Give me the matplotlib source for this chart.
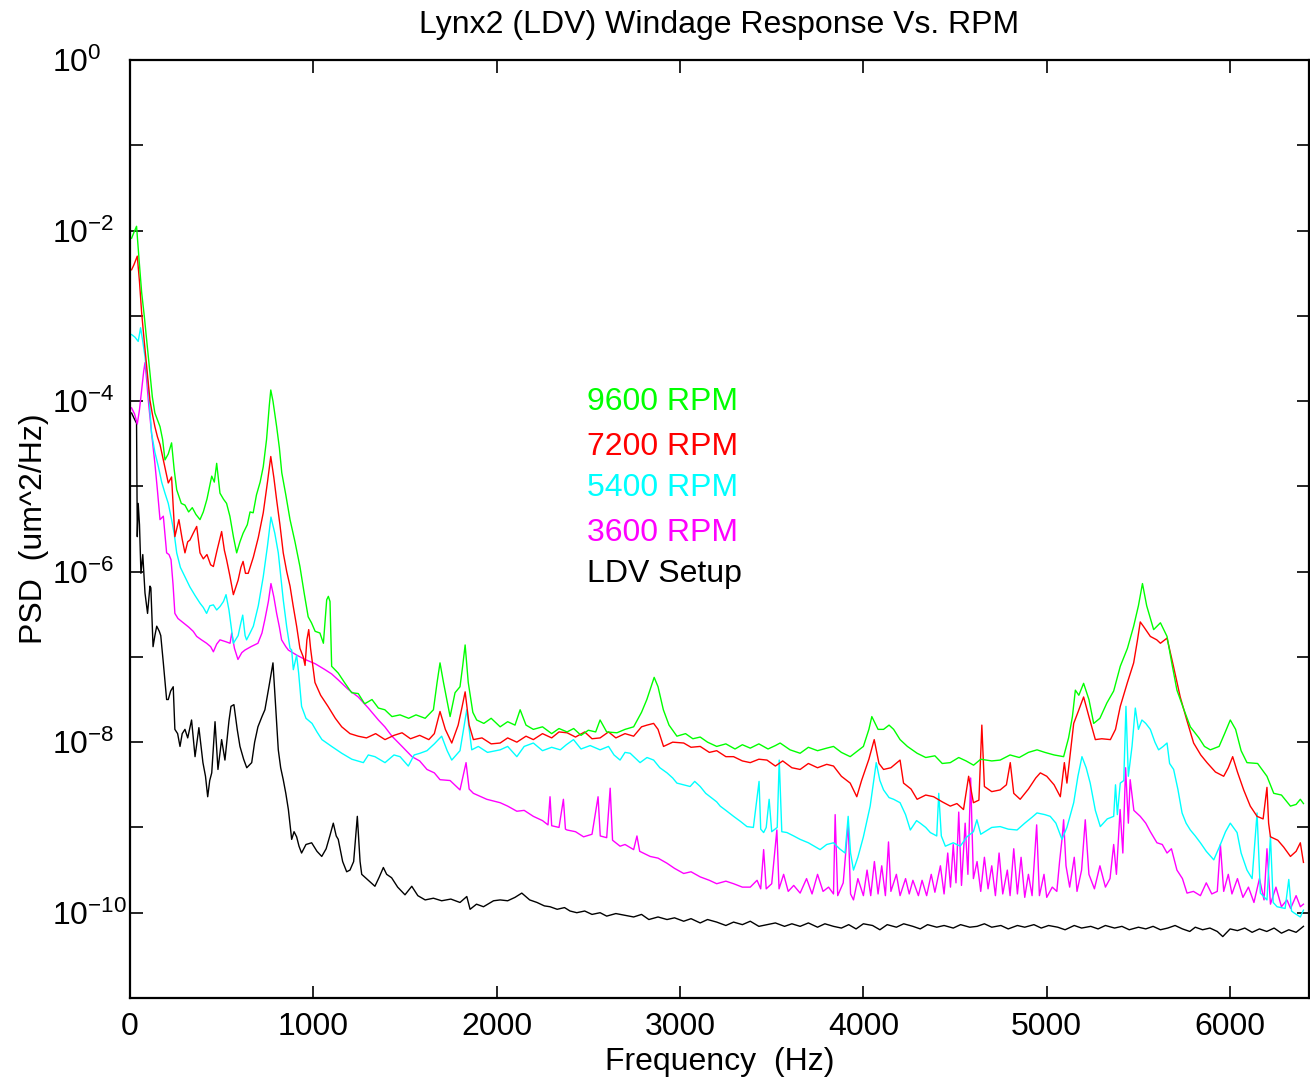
import numpy as np
import matplotlib
matplotlib.use("Agg")
import matplotlib.pyplot as plt
from matplotlib.ticker import FixedLocator, NullLocator

plt.rcParams['font.family'] = ['Liberation Sans', 'DejaVu Sans']
plt.rcParams['mathtext.fontset'] = 'custom'
plt.rcParams['mathtext.rm'] = 'Liberation Sans'
plt.rcParams['mathtext.it'] = 'Liberation Sans:italic'
plt.rcParams['mathtext.bf'] = 'Liberation Sans:bold'

# PSD curves, values as log10(um^2/Hz)
f_9600 = [9, 22, 36, 50, 64, 78, 91, 109, 122, 136, 150, 164, 178, 191, 209, 227, 241, 255, 280, 300,
          320, 340, 360, 382, 400, 420, 446, 460, 473, 491, 510, 527, 545, 565, 582, 600, 617, 640, 655, 672,
          690, 710, 727, 745, 760, 768, 780, 800, 815, 828, 850, 873, 900, 927, 950, 972, 990, 1010, 1036, 1055,
          1073, 1082, 1091, 1100, 1136, 1170, 1209, 1245, 1280, 1320, 1355, 1390, 1429, 1473, 1520, 1560, 1610, 1655, 1675, 1691,
          1710, 1746, 1773, 1800, 1815, 1828, 1845, 1870, 1891, 1930, 1970, 2019, 2060, 2100, 2128, 2160, 2200, 2250, 2300, 2340,
          2384, 2420, 2460, 2500, 2540, 2564, 2600, 2656, 2700, 2747, 2790, 2819, 2859, 2880, 2909, 2940, 2983, 3030, 3070, 3110,
          3150, 3200, 3250, 3300, 3340, 3383, 3430, 3480, 3520, 3546, 3600, 3655, 3700, 3750, 3800, 3837, 3880, 3928, 3970, 4000,
          4030, 4046, 4080, 4110, 4140, 4165, 4200, 4240, 4293, 4340, 4390, 4430, 4474, 4520, 4560, 4601, 4640, 4700, 4746, 4800,
          4850, 4900, 4947, 4990, 5040, 5092, 5119, 5140, 5156, 5175, 5201, 5230, 5256, 5290, 5328, 5365, 5401, 5440, 5474, 5500,
          5522, 5545, 5583, 5620, 5656, 5680, 5710, 5745, 5783, 5830, 5860, 5892, 5940, 5970, 6001, 6030, 6060, 6092, 6150, 6201,
          6238, 6280, 6329, 6360, 6383, 6400]
p_9600 = [-2.09, -2.02, -1.95, -2.35, -2.73, -3.0, -3.28, -3.67, -3.95, -4.14, -4.22, -4.30, -4.45, -4.69, -4.62, -4.49, -4.8, -5.04, -5.2, -5.22,
          -5.30, -5.25, -5.33, -5.39, -5.30, -5.15, -4.88, -4.95, -4.73, -5.08, -5.15, -5.20, -5.35, -5.60, -5.78, -5.65, -5.55, -5.45, -5.30, -5.31,
          -5.10, -4.95, -4.77, -4.45, -4.05, -3.87, -4.00, -4.30, -4.55, -4.84, -5.10, -5.39, -5.65, -5.94, -6.25, -6.53, -6.60, -6.70, -6.72, -6.84,
          -6.33, -6.29, -6.35, -7.11, -7.19, -7.30, -7.42, -7.43, -7.55, -7.50, -7.60, -7.62, -7.70, -7.68, -7.72, -7.68, -7.72, -7.62, -7.30, -7.07,
          -7.30, -7.70, -7.42, -7.35, -7.10, -6.86, -7.30, -7.65, -7.74, -7.78, -7.72, -7.82, -7.76, -7.80, -7.62, -7.80, -7.85, -7.82, -7.90, -7.84,
          -7.88, -7.84, -7.92, -7.86, -7.88, -7.74, -7.88, -7.89, -7.85, -7.82, -7.65, -7.50, -7.24, -7.35, -7.62, -7.80, -7.93, -7.90, -7.96, -7.94,
          -8.00, -8.05, -8.02, -8.08, -8.03, -8.07, -8.02, -8.08, -8.04, -8.01, -8.09, -8.13, -8.06, -8.10, -8.07, -8.05, -8.12, -8.17, -8.10, -8.05,
          -7.85, -7.70, -7.85, -7.85, -7.80, -7.85, -7.97, -8.05, -8.13, -8.18, -8.16, -8.25, -8.24, -8.18, -8.22, -8.27, -8.20, -8.22, -8.21, -8.15,
          -8.18, -8.12, -8.09, -8.12, -8.15, -8.17, -7.95, -7.70, -7.39, -7.45, -7.31, -7.50, -7.78, -7.72, -7.54, -7.40, -7.11, -6.90, -6.64, -6.40,
          -6.14, -6.40, -6.68, -6.60, -6.76, -7.05, -7.39, -7.60, -7.82, -7.95, -8.05, -8.09, -8.05, -7.90, -7.74, -7.85, -8.10, -8.24, -8.25, -8.40,
          -8.60, -8.62, -8.75, -8.73, -8.67, -8.72]

f_7200 = [9, 22, 40, 52, 64, 78, 91, 109, 122, 136, 150, 164, 185, 209, 227, 245, 267, 285, 300, 315,
          327, 345, 364, 382, 400, 420, 440, 455, 475, 500, 515, 527, 545, 564, 590, 605, 617, 630, 645, 673,
          700, 727, 750, 768, 785, 800, 818, 836, 855, 873, 890, 909, 927, 945, 955, 965, 975, 985, 1009, 1040,
          1080, 1120, 1155, 1200, 1245, 1290, 1340, 1391, 1440, 1484, 1530, 1580, 1630, 1660, 1691, 1720, 1755, 1790, 1810, 1828,
          1850, 1873, 1920, 1970, 2019, 2060, 2110, 2160, 2200, 2250, 2300, 2340, 2384, 2430, 2480, 2520, 2564, 2610, 2650, 2700,
          2747, 2790, 2820, 2856, 2880, 2910, 2960, 3020, 3060, 3110, 3160, 3200, 3250, 3292, 3340, 3383, 3430, 3474, 3520, 3560,
          3610, 3655, 3700, 3750, 3800, 3837, 3880, 3928, 3964, 3990, 4030, 4059, 4085, 4110, 4150, 4200, 4219, 4260, 4293, 4340,
          4383, 4430, 4474, 4510, 4546, 4574, 4600, 4630, 4646, 4660, 4700, 4746, 4780, 4801, 4820, 4855, 4900, 4940, 4965, 5000,
          5040, 5074, 5096, 5110, 5130, 5147, 5170, 5201, 5230, 5265, 5300, 5347, 5375, 5401, 5440, 5474, 5495, 5510, 5530, 5565,
          5600, 5620, 5656, 5690, 5728, 5765, 5801, 5840, 5874, 5920, 5965, 5990, 6014, 6040, 6074, 6110, 6147, 6180, 6201, 6210,
          6220, 6260, 6292, 6329, 6360, 6383, 6400]
p_7200 = [-2.46, -2.40, -2.30, -2.60, -2.97, -3.30, -3.59, -3.99, -4.15, -4.30, -4.42, -4.51, -4.72, -4.96, -4.89, -5.59, -5.39, -5.62, -5.78, -5.65,
          -5.63, -5.55, -5.47, -5.78, -5.85, -5.80, -5.92, -5.94, -5.75, -5.53, -5.75, -5.86, -6.05, -6.27, -6.10, -5.95, -5.88, -6.02, -6.02, -5.83,
          -5.60, -5.31, -4.95, -4.65, -4.90, -5.16, -5.45, -5.78, -6.00, -6.17, -6.40, -6.64, -6.90, -7.00, -7.10, -6.80, -6.68, -6.90, -7.30, -7.45,
          -7.58, -7.72, -7.82, -7.90, -7.93, -7.95, -7.90, -7.97, -7.92, -7.89, -7.96, -7.92, -7.97, -7.90, -7.64, -7.85, -8.01, -7.80, -7.60, -7.41,
          -7.80, -7.97, -7.95, -8.02, -8.01, -7.95, -8.00, -7.93, -7.97, -7.90, -7.95, -7.88, -7.89, -7.94, -7.88, -7.96, -7.95, -7.88, -7.95, -7.90,
          -7.93, -7.82, -7.80, -7.78, -7.85, -8.05, -8.00, -8.01, -8.06, -8.05, -8.12, -8.10, -8.17, -8.17, -8.22, -8.24, -8.20, -8.21, -8.28, -8.22,
          -8.30, -8.32, -8.25, -8.30, -8.26, -8.28, -8.40, -8.48, -8.64, -8.45, -8.20, -7.97, -8.25, -8.32, -8.30, -8.21, -8.48, -8.55, -8.67, -8.62,
          -8.64, -8.70, -8.75, -8.72, -8.79, -8.40, -8.71, -8.68, -7.80, -8.52, -8.58, -8.56, -8.50, -8.24, -8.60, -8.67, -8.55, -8.42, -8.36, -8.40,
          -8.50, -8.64, -8.24, -8.48, -8.10, -7.78, -7.65, -7.47, -7.70, -7.97, -7.96, -7.97, -7.85, -7.58, -7.30, -7.07, -6.80, -6.59, -6.65, -6.76,
          -6.80, -6.84, -6.78, -7.10, -7.47, -7.75, -8.01, -8.15, -8.24, -8.35, -8.40, -8.30, -8.17, -8.35, -8.56, -8.75, -8.87, -8.90, -8.53, -8.95,
          -9.11, -9.15, -9.23, -9.34, -9.28, -9.18, -9.41]

f_5400 = [9, 27, 45, 58, 70, 82, 100, 118, 136, 155, 173, 191, 209, 227, 241, 255, 275, 300, 327, 355,
          382, 400, 418, 436, 455, 473, 491, 510, 524, 540, 564, 590, 605, 615, 628, 636, 655, 673, 700, 727,
          750, 769, 790, 809, 836, 855, 873, 882, 891, 909, 920, 936, 960, 993, 1020, 1047, 1100, 1155, 1210, 1273,
          1300, 1336, 1391, 1440, 1473, 1518, 1550, 1582, 1620, 1660, 1700, 1730, 1755, 1800, 1837, 1864, 1900, 1950, 2019, 2060,
          2110, 2150, 2200, 2250, 2300, 2347, 2380, 2419, 2460, 2510, 2564, 2610, 2640, 2673, 2700, 2728, 2782, 2820, 2856, 2890,
          2929, 2960, 2983, 3020, 3055, 3080, 3110, 3140, 3164, 3200, 3219, 3250, 3292, 3330, 3365, 3400, 3431, 3440, 3456, 3470,
          3486, 3500, 3530, 3541, 3555, 3583, 3620, 3655, 3700, 3764, 3800, 3837, 3870, 3900, 3917, 3930, 3946, 3970, 4000, 4037,
          4070, 4090, 4110, 4140, 4165, 4200, 4230, 4256, 4290, 4310, 4340, 4365, 4400, 4411, 4425, 4447, 4490, 4528, 4565, 4600,
          4619, 4640, 4655, 4700, 4746, 4790, 4838, 4880, 4920, 4947, 4990, 5019, 5050, 5083, 5110, 5147, 5170, 5192, 5215, 5237,
          5265, 5292, 5330, 5365, 5375, 5385, 5401, 5420, 5432, 5445, 5465, 5483, 5500, 5519, 5540, 5565, 5590, 5610, 5635, 5656,
          5670, 5692, 5715, 5738, 5760, 5783, 5810, 5838, 5870, 5911, 5947, 5975, 6001, 6038, 6060, 6092, 6120, 6147, 6165, 6201,
          6220, 6235, 6256, 6300, 6320, 6335, 6347, 6383, 6400]
p_5400 = [-3.22, -3.25, -3.30, -3.14, -3.30, -3.48, -3.83, -4.38, -4.60, -4.77, -4.95, -5.08, -5.20, -5.39, -5.55, -5.78, -5.95, -6.06, -6.18, -6.28,
          -6.37, -6.42, -6.49, -6.40, -6.39, -6.45, -6.41, -6.35, -6.27, -6.45, -6.84, -6.75, -6.60, -6.51, -6.75, -6.80, -6.72, -6.64, -6.40, -6.06,
          -5.70, -5.36, -5.55, -5.78, -6.33, -6.65, -6.90, -6.92, -7.15, -6.98, -7.19, -7.58, -7.72, -7.78, -7.88, -7.97, -8.05, -8.13, -8.20, -8.24,
          -8.15, -8.17, -8.24, -8.15, -8.17, -8.28, -8.15, -8.13, -8.10, -8.02, -7.93, -8.10, -8.21, -8.10, -7.62, -8.09, -8.05, -8.12, -8.09, -8.05,
          -8.17, -8.05, -8.01, -8.10, -8.06, -8.09, -8.03, -7.97, -8.08, -8.04, -8.09, -8.05, -8.15, -8.21, -8.12, -8.13, -8.24, -8.18, -8.21, -8.30,
          -8.36, -8.42, -8.48, -8.50, -8.52, -8.46, -8.52, -8.60, -8.64, -8.70, -8.75, -8.80, -8.87, -8.93, -8.99, -9.00, -8.46, -9.02, -9.06, -9.00,
          -8.67, -9.05, -9.00, -8.21, -9.05, -9.06, -9.10, -9.14, -9.18, -9.26, -9.20, -9.18, -9.25, -9.30, -8.87, -9.30, -9.50, -9.35, -9.11, -8.75,
          -8.24, -8.45, -8.56, -8.65, -8.67, -8.71, -8.85, -9.03, -8.92, -8.95, -9.00, -9.06, -9.10, -8.60, -9.10, -9.22, -9.18, -9.22, -9.11, -9.05,
          -8.91, -9.08, -9.06, -9.00, -8.99, -9.02, -9.03, -8.95, -8.88, -8.83, -8.85, -8.87, -8.95, -9.14, -9.00, -8.71, -8.40, -8.17, -8.30, -8.48,
          -8.80, -8.99, -8.90, -8.87, -8.50, -8.85, -8.48, -8.45, -7.58, -8.40, -8.05, -7.60, -7.85, -7.74, -7.78, -7.85, -8.00, -8.09, -8.05, -8.01,
          -8.25, -8.32, -8.55, -8.83, -8.95, -9.03, -9.10, -9.18, -9.28, -9.38, -9.20, -9.05, -8.95, -9.06, -9.30, -9.50, -9.60, -8.83, -9.77, -9.85,
          -9.10, -9.88, -9.93, -9.95, -9.61, -9.98, -10.0, -10.05, -9.97]

f_3600 = [9, 25, 40, 52, 64, 75, 82, 91, 100, 118, 136, 150, 164, 182, 200, 213, 224, 235, 245, 262,
          291, 320, 345, 364, 390, 418, 440, 455, 473, 491, 520, 546, 555, 570, 589, 610, 627, 660, 698, 720,
          736, 755, 769, 785, 800, 815, 827, 850, 864, 910, 955, 1010, 1064, 1100, 1136, 1190, 1245, 1300, 1355, 1390,
          1429, 1484, 1538, 1580, 1620, 1660, 1691, 1746, 1800, 1833, 1850, 1873, 1946, 2019, 2060, 2110, 2150, 2200, 2250, 2280,
          2291, 2300, 2340, 2364, 2375, 2384, 2430, 2474, 2520, 2553, 2565, 2600, 2619, 2632, 2673, 2700, 2747, 2765, 2780, 2837,
          2880, 2929, 2970, 3020, 3060, 3110, 3160, 3200, 3250, 3292, 3340, 3383, 3420, 3440, 3456, 3470, 3500, 3528, 3540, 3565,
          3590, 3620, 3655, 3690, 3720, 3750, 3780, 3810, 3837, 3846, 3860, 3890, 3917, 3930, 3946, 3970, 4000, 4020, 4040, 4060,
          4080, 4100, 4120, 4137, 4150, 4180, 4200, 4230, 4250, 4270, 4300, 4320, 4345, 4370, 4390, 4420, 4440, 4460, 4475, 4490,
          4505, 4520, 4535, 4555, 4570, 4585, 4600, 4620, 4640, 4660, 4680, 4700, 4720, 4740, 4760, 4785, 4800, 4820, 4840, 4860,
          4880, 4900, 4920, 4945, 4960, 4985, 5000, 5030, 5055, 5070, 5085, 5092, 5105, 5125, 5150, 5165, 5190, 5210, 5230, 5260,
          5290, 5320, 5345, 5365, 5380, 5400, 5415, 5430, 5445, 5455, 5475, 5510, 5540, 5565, 5601, 5630, 5656, 5680, 5710, 5740,
          5765, 5800, 5838, 5870, 5900, 5930, 5947, 5965, 5990, 6010, 6040, 6070, 6100, 6130, 6160, 6185, 6201, 6220, 6250, 6280,
          6310, 6330, 6360, 6383, 6400]
p_3600 = [-4.08, -4.15, -4.27, -4.10, -3.87, -3.65, -3.55, -3.75, -3.99, -4.38, -4.73, -5.05, -5.39, -5.35, -5.78, -5.80, -5.86, -6.15, -6.49, -6.55,
          -6.60, -6.65, -6.70, -6.76, -6.80, -6.84, -6.88, -6.94, -6.85, -6.80, -6.82, -6.84, -6.72, -6.90, -7.03, -6.95, -6.92, -6.88, -6.84, -6.72,
          -6.56, -6.35, -6.14, -6.30, -6.49, -6.65, -6.80, -6.88, -6.92, -6.98, -7.03, -7.08, -7.15, -7.20, -7.27, -7.38, -7.47, -7.60, -7.74, -7.82,
          -7.93, -8.05, -8.17, -8.22, -8.32, -8.36, -8.44, -8.45, -8.56, -8.24, -8.55, -8.60, -8.67, -8.71, -8.75, -8.81, -8.80, -8.87, -8.92, -8.97,
          -8.64, -8.98, -9.00, -8.67, -9.02, -9.03, -9.05, -9.11, -9.08, -8.64, -9.10, -9.12, -8.54, -9.15, -9.22, -9.20, -9.26, -9.10, -9.28, -9.34,
          -9.36, -9.42, -9.48, -9.54, -9.52, -9.58, -9.62, -9.66, -9.63, -9.66, -9.70, -9.70, -9.62, -9.72, -9.26, -9.72, -9.66, -9.03, -9.72, -9.55,
          -9.75, -9.68, -9.77, -9.60, -9.78, -9.55, -9.75, -9.70, -9.78, -8.85, -9.80, -9.65, -8.95, -9.78, -9.85, -9.60, -9.80, -9.50, -9.80, -9.40,
          -9.78, -9.45, -9.80, -9.17, -9.75, -9.55, -9.80, -9.60, -9.78, -9.62, -9.80, -9.62, -9.80, -9.55, -9.76, -9.45, -9.78, -9.30, -9.70, -9.20,
          -9.65, -8.82, -9.68, -8.95, -9.55, -8.42, -9.60, -9.40, -9.75, -9.35, -9.72, -9.45, -9.80, -9.30, -9.78, -9.50, -9.80, -9.25, -9.78, -9.35,
          -9.82, -9.55, -9.80, -8.97, -9.80, -9.55, -9.82, -9.70, -9.75, -9.40, -9.10, -8.91, -9.45, -9.70, -9.35, -9.75, -9.50, -8.91, -9.55, -9.72,
          -9.45, -9.70, -9.60, -9.20, -9.55, -8.79, -9.30, -8.30, -8.95, -8.44, -8.80, -8.87, -8.95, -9.05, -9.18, -9.20, -9.30, -9.25, -9.50, -9.60,
          -9.77, -9.75, -9.80, -9.65, -9.78, -9.75, -9.20, -9.75, -9.55, -9.78, -9.60, -9.82, -9.70, -9.88, -9.60, -9.85, -9.25, -9.90, -9.70, -9.93,
          -9.85, -9.95, -9.80, -9.93, -9.90]

f_ldv = [9, 22, 36, 40, 45, 52, 60, 70, 82, 96, 109, 114, 126, 136, 146, 160, 168, 182, 200, 209,
         222, 236, 245, 260, 273, 285, 300, 315, 336, 355, 376, 398, 412, 424, 435, 446, 464, 480, 500, 518,
         540, 551, 567, 585, 600, 620, 637, 664, 680, 698, 720, 736, 758, 780, 795, 809, 822, 836, 850, 864,
         882, 895, 909, 922, 936, 960, 991, 1020, 1046, 1070, 1090, 1109, 1125, 1136, 1160, 1182, 1200, 1220, 1240, 1255,
         1264, 1300, 1336, 1360, 1382, 1400, 1427, 1460, 1500, 1537, 1570, 1610, 1655, 1700, 1750, 1800, 1837, 1855, 1890, 1928,
         1983, 2019, 2060, 2100, 2137, 2180, 2220, 2260, 2291, 2330, 2370, 2400, 2437, 2480, 2520, 2564, 2600, 2650, 2700, 2747,
         2790, 2830, 2880, 2929, 2970, 3020, 3060, 3110, 3150, 3200, 3250, 3292, 3340, 3383, 3430, 3474, 3520, 3570, 3610, 3655,
         3700, 3750, 3790, 3837, 3880, 3920, 3960, 4000, 4050, 4090, 4130, 4180, 4220, 4270, 4310, 4350, 4400, 4440, 4490, 4530,
         4580, 4620, 4660, 4700, 4750, 4790, 4840, 4880, 4930, 4970, 5010, 5060, 5100, 5150, 5190, 5240, 5280, 5320, 5370, 5410,
         5450, 5500, 5540, 5580, 5620, 5660, 5700, 5740, 5780, 5810, 5850, 5890, 5930, 5960, 6000, 6040, 6080, 6120, 6160, 6200,
         6240, 6280, 6320, 6360, 6400]
p_ldv = [-4.14, -4.20, -4.26, -5.59, -5.20, -5.45, -6.02, -5.80, -6.25, -6.49, -6.17, -6.19, -6.88, -6.75, -6.64, -6.70, -6.75, -7.07, -7.50, -7.50,
         -7.40, -7.35, -7.85, -7.90, -8.05, -7.90, -7.85, -7.95, -7.74, -8.17, -7.83, -8.24, -8.40, -8.64, -8.45, -8.36, -7.76, -8.32, -7.97, -8.21,
         -7.75, -7.58, -7.56, -7.85, -8.05, -8.20, -8.30, -8.24, -8.00, -7.82, -7.70, -7.62, -7.35, -7.07, -7.60, -8.09, -8.30, -8.44, -8.60, -8.79,
         -9.14, -9.05, -9.11, -9.22, -9.30, -9.20, -9.18, -9.28, -9.34, -9.25, -9.10, -8.95, -9.10, -9.14, -9.40, -9.52, -9.50, -9.40, -8.87, -9.40,
         -9.55, -9.62, -9.69, -9.58, -9.47, -9.55, -9.59, -9.70, -9.79, -9.69, -9.80, -9.85, -9.83, -9.86, -9.84, -9.88, -9.81, -9.96, -9.90, -9.93,
         -9.86, -9.85, -9.86, -9.82, -9.77, -9.85, -9.88, -9.92, -9.93, -9.96, -9.94, -9.98, -10.0, -9.98, -10.02, -10.0, -10.04, -10.01, -10.03, -10.05,
         -10.02, -10.08, -10.05, -10.08, -10.06, -10.10, -10.07, -10.12, -10.08, -10.11, -10.15, -10.11, -10.14, -10.10, -10.16, -10.14, -10.12, -10.16, -10.13, -10.16,
         -10.12, -10.17, -10.13, -10.16, -10.18, -10.14, -10.19, -10.13, -10.15, -10.20, -10.14, -10.17, -10.13, -10.16, -10.19, -10.14, -10.17, -10.15, -10.18, -10.14,
         -10.17, -10.16, -10.13, -10.17, -10.15, -10.19, -10.15, -10.17, -10.14, -10.18, -10.15, -10.17, -10.20, -10.15, -10.18, -10.16, -10.19, -10.15, -10.18, -10.16,
         -10.20, -10.17, -10.19, -10.16, -10.20, -10.18, -10.15, -10.19, -10.22, -10.17, -10.20, -10.18, -10.22, -10.28, -10.19, -10.21, -10.18, -10.23, -10.19, -10.22,
         -10.18, -10.24, -10.20, -10.23, -10.16]

series = [
    (f_9600, p_9600, '#00ff00', '9600 RPM'),
    (f_7200, p_7200, '#ff0000', '7200 RPM'),
    (f_5400, p_5400, '#00ffff', '5400 RPM'),
    (f_3600, p_3600, '#ff00ff', '3600 RPM'),
    (f_ldv, p_ldv, '#000000', 'LDV Setup'),
]

FS = 23

fig = plt.figure(figsize=(13.10, 10.81), dpi=100)
ax = fig.add_axes([0.0992, 0.0768, 0.900, 0.8677])

# black drawn first so coloured curves sit on top of it
for f, p, c, lab in series[::-1]:
    ax.plot(f, 10.0 ** np.array(p), color=c, lw=1.0)

ax.set_yscale('log')
ax.set_xlim(0, 6430)
ax.set_ylim(1e-11, 1e0)

ax.xaxis.set_major_locator(FixedLocator([0, 1000, 2000, 3000, 4000, 5000, 6000]))
decades = [10.0 ** k for k in range(-11, 1)]
ax.yaxis.set_major_locator(FixedLocator(decades))
ax.yaxis.set_minor_locator(NullLocator())
ylabels = []
for k in range(-11, 1):
    if k % 2 == 0:
        ylabels.append(r'$10^{%d}$' % k)
    else:
        ylabels.append('')
ax.set_yticks(decades)
ax.set_yticklabels(ylabels)

ax.tick_params(axis='both', which='major', direction='in', length=9, width=1.2,
               top=True, right=True, labelsize=FS)
ax.tick_params(axis='x', pad=10)
# y labels start at a common left edge, like the original
ax.tick_params(axis='y', pad=56)
for t in ax.get_yticklabels():
    t.set_ha('left')
for s in ax.spines.values():
    s.set_linewidth(1.6)

ax.set_title('Lynx2 (LDV) Windage Response Vs. RPM', fontsize=FS, pad=19.5)
ax.set_xlabel('Frequency  (Hz)', fontsize=FS, labelpad=4)
ax.set_ylabel('PSD  (um^2/Hz)', fontsize=FS, labelpad=2)

# curve labels
label_y = [0.635, 0.587, 0.544, 0.496, 0.452]
for (f, p, c, lab), yy in zip(series, label_y):
    ax.text(0.3876, yy, lab, color=c, fontsize=FS, transform=ax.transAxes, va='center', ha='left')

fig.savefig('out.png', dpi=100)
